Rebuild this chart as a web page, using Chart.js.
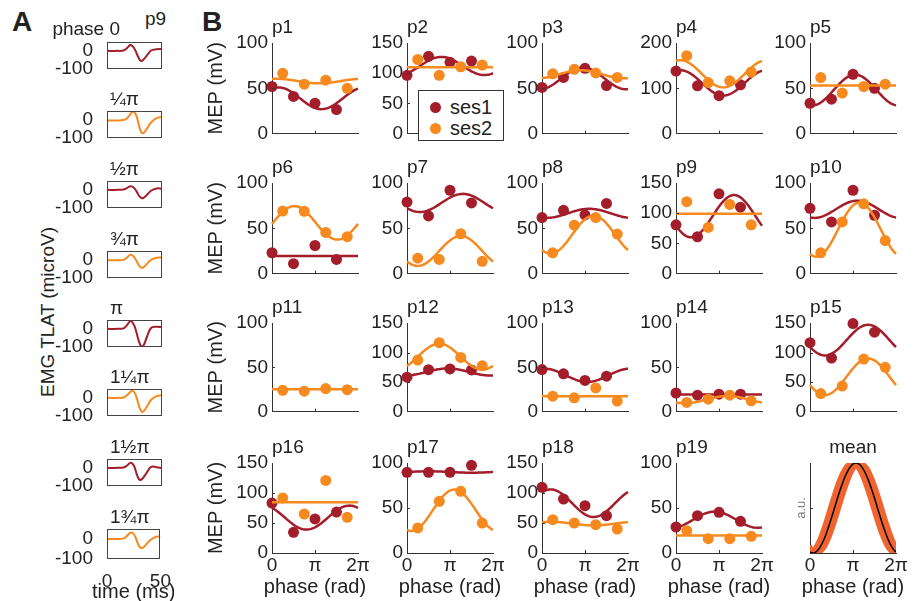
<!DOCTYPE html>
<html>
<head>
<meta charset="utf-8">
<script src="https://cdn.jsdelivr.net/npm/chart.js@4.4.1/dist/chart.umd.min.js"></script>
<style>
body { margin: 0; width: 924px; height: 601px; overflow: hidden; background: #fff; position: relative;
       font-family: 'Liberation Sans', Arial, Helvetica, sans-serif; color: #222; }
canvas { position: absolute; }
.lbl { position: absolute; white-space: nowrap; }
.legend { position: absolute; left: 418px; top: 90px; width: 84px; height: 49px; border: 1px solid #333;
          background: #fff; z-index: 5; font-size: 20px; }
.legend .dot { position: absolute; left: 11px; width: 11px; height: 11px; border-radius: 50%; }
.legend .txt { position: absolute; left: 31px; line-height: 22px; }
</style>
</head>
<body>
<div class="lbl" style="left:12px;top:8px;font-size:28px;font-weight:bold;line-height:28px">A</div>
<div class="lbl" style="left:202px;top:8px;font-size:28px;font-weight:bold;line-height:28px">B</div>
<div class="lbl" style="left:145px;top:8px;font-size:19px;line-height:22px">p9</div>
<div class="lbl" style="left:-77px;top:301px;width:250px;text-align:center;font-size:19px;line-height:22px;transform:rotate(-90deg)">EMG TLAT (microV)</div>
<div class="legend">
  <span class="dot" style="top:11px;background:#A31D2A"></span><span class="txt" style="top:5px">ses1</span>
  <span class="dot" style="top:32px;background:#F68A1E"></span><span class="txt" style="top:26px">ses2</span>
</div>
<script>
// ---- data ----

// panel A: single EMG traces of p9 at each stimulation phase
const emgTime = [0, 10, 15, 18, 21, 23, 25, 27, 29, 31, 33, 36, 40, 45, 50];
const emgPhaseLabels = ['phase 0', '¼π', '½π', '¾π', 'π', '1¼π', '1½π', '1¾π'];
const emgTraces = [
    [0, 0, 2, 14, 33, 28, 12, -15, -42, -57, -50, -28, 2, 9, 10],
    [-3, -3, -1, 8, 30, 45, 42, 18, -30, -68, -75, -52, -15, 10, 17],
    [0, 0, 2, 10, 20, 18, 8, -10, -32, -45, -46, -30, -5, 8, 6],
    [-2, -2, 0, 12, 28, 26, 12, -8, -30, -44, -42, -25, 0, 12, 13],
    [0, 0, 3, 20, 43, 38, 15, -25, -70, -97, -96, -50, 5, 12, 10],
    [0, 0, 2, 14, 32, 40, 30, 0, -45, -74, -77, -52, -12, 10, 15],
    [0, 0, 2, 12, 28, 25, 5, -35, -63, -67, -55, -28, 6, 4, -2],
    [0, 0, 2, 12, 28, 33, 25, 5, -25, -42, -45, -32, -8, 9, 13]
];

// panel B: MEP per phase (phases in units of pi)
const participants = ['p1', 'p2', 'p3', 'p4', 'p5', 'p6', 'p7', 'p8', 'p9', 'p10',
                      'p11', 'p12', 'p13', 'p14', 'p15', 'p16', 'p17', 'p18', 'p19'];
const phases1 = [0, 0.5, 1, 1.5];
const phases2 = [0.25, 0.75, 1.25, 1.75];
const yMax = [100, 150, 100, 200, 100, 100, 100, 100, 150, 100, 100, 150, 100, 100, 150, 150, 100, 150, 100];
const ses1 = [
    [52, 41, 33.5, 26.5], [96.5, 128, 118, 120], [51, 62, 72, 53], [138, 105.5, 83.6, 107.6],
    [33.5, 38, 65.5, 50], [23, 11, 31, 15.6], [79, 63.6, 92, 78], [61.8, 69.8, 64.7, 77.5],
    [80.7, 61, 132, 110], [72, 57, 92, 64.4], null, [58.3, 71, 72.2, 70.6],
    [47.4, 42.6, 35.2, 40], [21, 18.5, 19.6, 19.6], [116.7, 90.6, 149, 134.4], [83.3, 34.4, 56.7, 68.3],
    [89.6, 89.6, 89.6, 97.4], [109.4, 90, 78.9, 62.2], [28.9, 41.5, 45.2, 35.2]
];
const ses2 = [
    [66.5, 54.5, 59, 50], [122.7, 96.5, 110.7, 113.5], [66, 71, 67, 62], [172, 112.7, 116.4, 136],
    [61.8, 44.7, 52, 54.5], [69, 68.7, 45.5, 40.7], [17, 15.6, 44, 13.5], [22.9, 53.5, 61.8, 43.6],
    [119, 76.4, 114.5, 80.7], [22.9, 57, 77, 36.4], [24, 23, 26, 24.8], [87.2, 116.7, 91.7, 77.8],
    [17.4, 15.6, 26.7, 11.9], [10.4, 14, 18.5, 12.2], [30.6, 43.3, 88.9, 75], [91.7, 65, 121, 59.4],
    [27.8, 57.4, 68.5, 33.3], [55.6, 50, 47.2, 40], [24.8, 15.9, 15.9, 18.5]
];
// cosine fits: [mean, amplitude, peak phase (x pi)]
const fit1 = [
    [39, 12, 0.15], [112, 15, 0.8], [61, 12, 0.95], [112, 28, 0.1], [48, 17, 1.05],
    [19.5, 0, 0], [78, 10, 1.3], [66.5, 5, 1.1], [95, 35, 1.35], [71, 9.5, 1.1],
    null, [67, 6, 0.95], [41, 7.5, 0.05], [19.3, 0, 0], [121, 26, 1.35],
    [59, 20, 1.8], [90, 0.8, 0.5], [83, 23, 0.2], [37, 9, 0.9]
];
const fit2 = [
    [58, 2.5, 0.1], [110, 0, 0], [65.5, 4.5, 0.9], [132, 30, 0.1], [53, 0, 0],
    [56, 18.5, 0.52], [25, 16.5, 1.25], [43, 21, 1.2], [99, 0, 0], [48.5, 30, 1.15],
    [25.2, 0, 0], [93, 22, 0.75], [17.4, 0, 0], [13.5, 4, 1.2], [59, 31, 1.35],
    [84.4, 0, 0], [47.5, 23, 1.1], [49, 3, 0.2], [19.5, 0, 0]
];
// mean panel: peak phases (x pi) of the normalised fits, and of their mean
const meanPeaks = [0.95, 0.98, 1.01, 1.04, 1.07, 1.1, 1.13, 1.16, 1.19];
const meanPeak = 1.07;

// ---- layout / style ----
const FONT = "'Liberation Sans', Arial, Helvetica, sans-serif";
const TXT = '#222222';
const AX = '#333333';
const RED = '#A31D2A';
const ORANGE = '#F68A1E';
const MEAN_ORANGE = '#F0642F';

const emgTops = [42, 111, 181, 251, 320, 389, 459, 529];
const colLeft = [272, 407, 542, 676, 810];
const rowTop = [43, 183, 323, 463];
const rowH = [92, 92, 90, 90];

Chart.defaults.font.family = FONT;
Chart.defaults.font.size = 19;
Chart.defaults.color = TXT;
Chart.defaults.animation = false;
Chart.defaults.plugins.legend.display = false;
Chart.defaults.plugins.tooltip.enabled = false;

const phaseGrid = Array.from({length: 73}, (_, i) => i * 2 * Math.PI / 72);

// titles above the axes and axis labels (drawn without width limit)
const panelText = {
    id: 'panelText',
    afterDraw(chart, args, o) {
        if (!o) return;
        const a = chart.chartArea, ctx = chart.ctx;
        const cx = (a.left + a.right) / 2;
        ctx.save();
        ctx.fillStyle = TXT;
        if (o.text) {
            ctx.font = '19px ' + FONT;
            ctx.textAlign = o.align || 'left';
            ctx.textBaseline = 'alphabetic';
            const x = o.align === 'center' ? cx : a.left + (o.dx || 0);
            ctx.fillText(o.text, x, a.top - (o.dy || 10));
        }
        ctx.font = '20px ' + FONT;
        ctx.textAlign = 'center';
        ctx.textBaseline = 'middle';
        if (o.xlabel) ctx.fillText(o.xlabel, cx, a.bottom + o.xoff);
        if (o.ylabel) {
            ctx.translate(a.left - o.yoff, (a.top + a.bottom) / 2);
            ctx.rotate(-Math.PI / 2);
            ctx.fillText(o.ylabel, 0, 0);
        }
        ctx.restore();
    }
};

// inward tick marks and optional box
const axesDeco = {
    id: 'axesDeco',
    afterDraw(chart, args, o) {
        if (!o) return;
        const {ctx, chartArea: a, scales: {x, y}} = chart;
        ctx.save();
        ctx.strokeStyle = AX;
        ctx.lineWidth = 1;
        ctx.beginPath();
        (o.xt || []).forEach(v => {
            const px = Math.round(x.getPixelForValue(v)) + 0.5;
            ctx.moveTo(px, a.bottom); ctx.lineTo(px, a.bottom - 3);
        });
        (o.yt || []).forEach(v => {
            const py = Math.round(y.getPixelForValue(v)) + 0.5;
            ctx.moveTo(a.left, py); ctx.lineTo(a.left + 3, py);
        });
        ctx.stroke();
        if (o.box) {
            ctx.strokeStyle = '#444';
            ctx.strokeRect(Math.round(a.left) + 0.5, Math.round(a.top) + 0.5,
                           Math.round(a.right - a.left) - 1, Math.round(a.bottom - a.top) - 1);
        }
        ctx.restore();
    }
};

function makeCanvas(left, top, w, h) {
    const cv = document.createElement('canvas');
    cv.width = w;
    cv.height = h;
    cv.style.left = left + 'px';
    cv.style.top = top + 'px';
    document.body.appendChild(cv);
    return cv;
}

function piLabel(v) {
    const r = Math.round(v / Math.PI);
    return r === 0 ? '0' : r === 1 ? 'π' : r + 'π';
}

// ---- panel A ----
function emgChart(i) {
    const last = i === emgTops.length - 1;
    const yW = 67, padT = 22, padR = 12, axW = 55, axH = 30;
    const xH = last ? 46 : 2, padB = last ? 0 : 12;
    const cv = makeCanvas(107 - yW, emgTops[i] - padT, yW + axW + padR, padT + axH + xH + padB);
    const first = i === 0;
    new Chart(cv, {
        type: 'line',
        data: {
            datasets: [{
                data: emgTime.map((t, j) => ({x: t, y: emgTraces[i][j]})),
                borderColor: i % 2 ? ORANGE : RED,
                borderWidth: 2,
                pointRadius: 0,
                tension: 0.4,
                fill: false
            }]
        },
        options: {
            responsive: false,
            layout: {padding: {left: 0, top: padT, right: padR, bottom: padB}},
            plugins: {
                panelText: {text: emgPhaseLabels[i], align: first ? 'right' : 'left',
                            dx: first ? 13 : 3, dy: first ? 7 : 6,
                            xlabel: last ? 'time (ms)' : '', xoff: 33},
                axesDeco: {box: true}
            },
            scales: {
                x: {
                    type: 'linear', min: 0, max: 50,
                    afterBuildTicks: s => { s.ticks = [{value: 0}, {value: 50}]; },
                    ticks: {display: last, padding: 3, maxRotation: 0, font: {size: 19}},
                    grid: {display: false},
                    border: {display: false},
                    afterFit: s => { s.height = xH; }
                },
                y: {
                    min: -100, max: 50,
                    afterBuildTicks: s => { s.ticks = [{value: -100}, {value: 0}]; },
                    ticks: {padding: 6, font: {size: 19}},
                    grid: {display: false},
                    border: {display: false},
                    afterFit: s => { s.width = yW; }
                }
            }
        },
        plugins: [panelText, axesDeco]
    });
}

// ---- panel B ----
function fitCurve(f, color) {
    return {
        data: phaseGrid.map(x => ({x: x, y: f[0] + f[1] * Math.cos(x - f[2] * Math.PI)})),
        borderColor: color,
        borderWidth: 2.5,
        pointRadius: 0,
        fill: false,
        clip: 3
    };
}

function dots(ph, vals, color) {
    return {
        data: ph.map((p, j) => ({x: p * Math.PI, y: vals[j]})),
        showLine: false,
        pointRadius: 5.5,
        pointBackgroundColor: color,
        pointBorderWidth: 0,
        clip: false
    };
}

function mepChart(k) {
    const r = Math.floor(k / 5), c = k % 5;
    const isMean = k === 19;
    const bottom = r === 3;
    const yW = c === 0 ? 68 : 50;
    const padT = 30, padR = 14, axW = 86, axH = rowH[r];
    const xH = bottom ? 46 : 2, padB = bottom ? 0 : 12;
    const cv = makeCanvas(colLeft[c] - yW, rowTop[r] - padT, yW + axW + padR, padT + axH + xH + padB);

    let datasets = [];
    let ymax = 1, step = 0.5;
    if (isMean) {
        datasets.push({
            data: phaseGrid.map(x => ({x: x, y: (1 + Math.cos(x - meanPeak * Math.PI)) / 2})),
            borderColor: '#000', borderWidth: 1.5, pointRadius: 0, fill: false
        });
        meanPeaks.forEach(p => datasets.push({
            data: phaseGrid.map(x => ({x: x, y: (1 + Math.cos(x - p * Math.PI)) / 2})),
            borderColor: MEAN_ORANGE, borderWidth: 3, pointRadius: 0, fill: false
        }));
    } else {
        ymax = yMax[k];
        step = ymax > 150 ? 100 : 50;
        datasets.push(fitCurve(fit2[k], ORANGE));
        datasets.push(dots(phases2, ses2[k], ORANGE));
        if (ses1[k]) {
            datasets.push(fitCurve(fit1[k], RED));
            datasets.push(dots(phases1, ses1[k], RED));
        }
    }
    const yt = [];
    for (let v = step; v < ymax; v += step) yt.push(v);

    new Chart(cv, {
        type: 'line',
        data: {datasets: datasets},
        options: {
            responsive: false,
            layout: {padding: {left: 0, top: padT, right: padR, bottom: padB}},
            plugins: {
                panelText: {
                    text: isMean ? 'mean' : participants[k], align: isMean ? 'center' : 'left', dx: 0, dy: 10,
                    xlabel: bottom ? 'phase (rad)' : '', xoff: 34,
                    ylabel: c === 0 ? 'MEP (mV)' : '', yoff: 56
                },
                axesDeco: {xt: [Math.PI], yt: yt}
            },
            scales: {
                x: {
                    type: 'linear', min: 0, max: 2 * Math.PI,
                    afterBuildTicks: s => { s.ticks = [{value: 0}, {value: Math.PI}, {value: 2 * Math.PI}]; },
                    ticks: {display: bottom, padding: 1, maxRotation: 0, font: {size: 19}, callback: v => piLabel(v)},
                    grid: {drawOnChartArea: false, drawTicks: false},
                    border: {display: true, color: AX, width: 1},
                    afterFit: s => { s.height = xH; }
                },
                y: {
                    min: 0, max: ymax,
                    ticks: {display: !isMean, stepSize: step, padding: 4, font: {size: 19}},
                    grid: {drawOnChartArea: false, drawTicks: false},
                    border: {display: true, color: AX, width: 1},
                    title: {display: isMean, text: 'a.u.', color: '#808080', font: {size: 13}, padding: {top: 34}},
                    afterFit: s => { s.width = yW; }
                }
            }
        },
        plugins: [panelText, axesDeco]
    });
}

emgTops.forEach((_, i) => emgChart(i));
for (let k = 0; k < 20; k++) mepChart(k);
</script>
</body>
</html>
